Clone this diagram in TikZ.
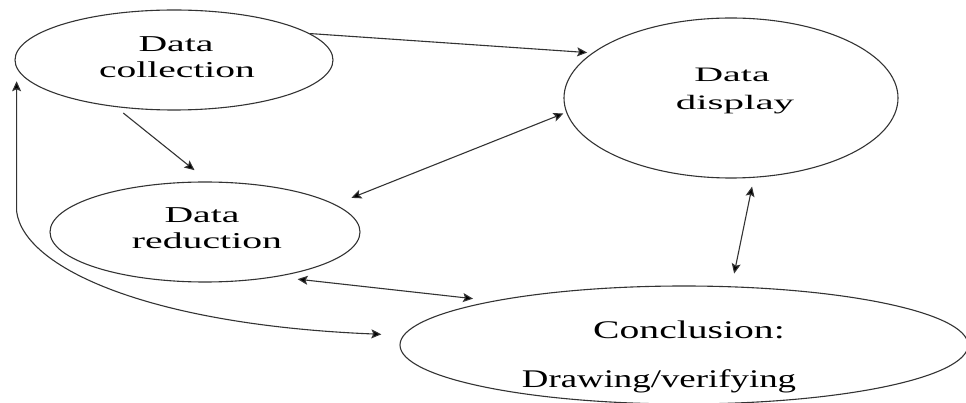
\documentclass[tikz,border=0pt]{standalone}
\usepackage{fontspec}
\setmainfont{Liberation Serif}
\usetikzlibrary{shapes.geometric,arrows.meta}
\newcommand{\hstr}[2]{\scalebox{#1}[1]{#2}}
\begin{document}
\begin{tikzpicture}[x=1pt,y=-1pt,
  oval/.style={draw=black!80, line width=1.1pt, ellipse, inner sep=0pt},
  lbl/.style={anchor=base, inner sep=0pt, font=\fontsize{22.7}{26}\selectfont},
  lblsmall/.style={lbl, font=\fontsize{20.5}{24}\selectfont},
  lblbig/.style={lbl, font=\fontsize{25.4}{30}\selectfont},
  link/.style={draw=black!80, line width=1.1pt},
  tip/.tip={Stealth[length=10pt,width=9pt,inset=2pt,fill=black]}]
\useasboundingbox (0,0) rectangle (966,403);
\clip (0,0) rectangle (966,403);
% ellipses
\node[oval, minimum width=318pt, minimum height=100pt] (coll) at (174,60) {};
\node[oval, minimum width=334pt, minimum height=160pt] (disp) at (731,98) {};
\node[oval, minimum width=310pt, minimum height=100pt] (red) at (205,232) {};
\node[oval, minimum width=568pt, minimum height=118pt] (conc) at (684,345) {};
% texts
\node[lbl] (t1) at (176,52) {\hstr{1.75}{Data}};
\node[lbl] (t2) at (177,78) {\hstr{1.74}{collection}};
\node[lblsmall] (t3) at (732,82) {\hstr{1.95}{Data}};
\node[lblsmall] (t4) at (735,110) {\hstr{2}{display}};
\node[lbl] (t5) at (202,223) {\hstr{1.75}{Data}};
\node[lbl] (t6) at (207,249) {\hstr{1.75}{reduction}};
\node[lblbig] (t7) at (689,338) {\hstr{1.56}{Conclusion:}};
\node[lblbig] (t8) at (659,387) {\hstr{1.45}{Drawing/verifying}};
% connectors
\draw[link, -tip, shorten >=5pt] (coll.11.6) -- (disp.162.5);
\draw[link, -tip, shorten <=9.5pt, shorten >=18pt] (coll.219.5) -- (red.86.6);
\draw[link, tip-tip, shorten <=3pt, shorten >=17.5pt] (disp.185.4) -- (red.12.8);
\draw[link, tip-tip, shorten <=9pt, shorten >=13pt] (disp.286.2) -- (conc.51.5);
\draw[link, tip-tip, shorten <=21pt, shorten >=20pt] (red.328.1) -- (conc.167.8);
\draw[link, tip-tip, shorten <=13pt, shorten >=22pt] (coll.183.7) -- ++(0,143)
  .. controls ++(7,57) and (150,325) .. (conc.178.7);
\end{tikzpicture}
\end{document}
